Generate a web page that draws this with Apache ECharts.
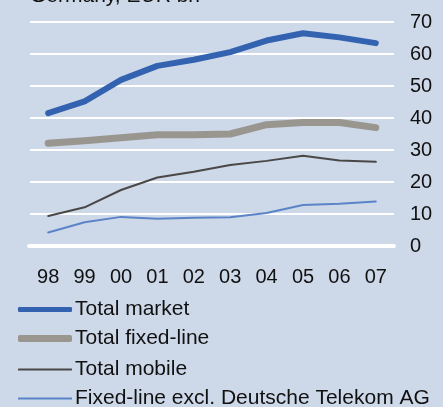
<!DOCTYPE html>
<html>
<head>
<meta charset="utf-8">
<script src="https://cdn.jsdelivr.net/npm/echarts@6/dist/echarts.min.js"></script>
<style>
html, body { margin: 0; padding: 0; background: #cdd8e9; }
#myChart { width: 443px; height: 407px; }
</style>
</head>
<body>
<div id="myChart"></div>
<script>
// years on x axis
const years = ['98', '99', '00', '01', '02', '03', '04', '05', '06', '07']
// series values, EUR bn
const totalMarket = [41.5, 45.2, 51.9, 56.3, 58.2, 60.6, 64.2, 66.5, 65.2, 63.4]
const totalFixed = [32.1, 32.9, 33.8, 34.8, 34.8, 35.0, 37.9, 38.6, 38.6, 37.0]
const totalMobile = [9.4, 12.1, 17.5, 21.4, 23.2, 25.3, 26.6, 28.2, 26.7, 26.3]
const fixedExclDT = [4.2, 7.4, 9.1, 8.5, 8.8, 9.0, 10.3, 12.8, 13.2, 13.9]
const yTicks = [0, 10, 20, 30, 40, 50, 60, 70]
const names = ['Total market', 'Total fixed-line', 'Total mobile', 'Fixed-line excl. Deutsche Telekom AG']

const font = 'Liberation Sans, Arial, sans-serif'
const colors = ['#3262b0', '#999690', '#4a4747', '#5b84c8']
const widths = [6, 7, 2, 2]
const legendIconH = [5, 7, 2, 2]
const legendTop = [294, 323, 354, 383]

let myChart = echarts.init(document.getElementById('myChart'))

function lineSeries (i, data) {
  return {
    name: names[i],
    type: 'line',
    data: data,
    symbol: 'none',
    z: 3,
    lineStyle: { color: colors[i], width: widths[i], cap: 'round', join: 'round' },
    itemStyle: { color: colors[i] }
  }
}

// one legend per row so they stack like the original
let legends = names.map(function (n, i) {
  return {
    orient: 'vertical',
    left: 13,
    top: legendTop[i],
    icon: 'roundRect',
    itemWidth: 54,
    itemHeight: legendIconH[i],
    textStyle: { fontSize: 21, color: '#111', fontFamily: font, padding: [0, 0, 0, -2] },
    data: [n]
  }
})

myChart.setOption({
  backgroundColor: '#cdd8e9',
  animation: false,
  textStyle: { fontFamily: font },
  graphic: [{
    type: 'text',
    left: 30,
    top: -14,
    style: { text: 'Germany, EUR bn', font: '21px ' + font, fill: '#111' }
  }, {
    // thicker zero line
    type: 'line',
    z: 1,
    shape: { x1: 29, y1: 246, x2: 394, y2: 246 },
    style: { stroke: '#ffffff', lineWidth: 4, lineCap: 'round' }
  }],
  legend: legends,
  grid: { left: 30, right: 49, top: 22, bottom: 161 },
  xAxis: {
    type: 'category',
    data: years,
    boundaryGap: true,
    axisLine: { show: false },
    axisTick: { show: false },
    axisLabel: { fontSize: 20, color: '#111', margin: 21, interval: 0 }
  },
  yAxis: {
    type: 'value',
    position: 'right',
    min: yTicks[0],
    max: yTicks[yTicks.length - 1],
    interval: 10,
    axisLine: { show: false },
    axisTick: { show: false },
    axisLabel: { fontSize: 20, color: '#111', margin: 16 },
    splitLine: { lineStyle: { color: '#ffffff', width: 2 } }
  },
  series: [
    lineSeries(0, totalMarket),
    lineSeries(1, totalFixed),
    lineSeries(2, totalMobile),
    lineSeries(3, fixedExclDT)
  ]
})
</script>
</body>
</html>
